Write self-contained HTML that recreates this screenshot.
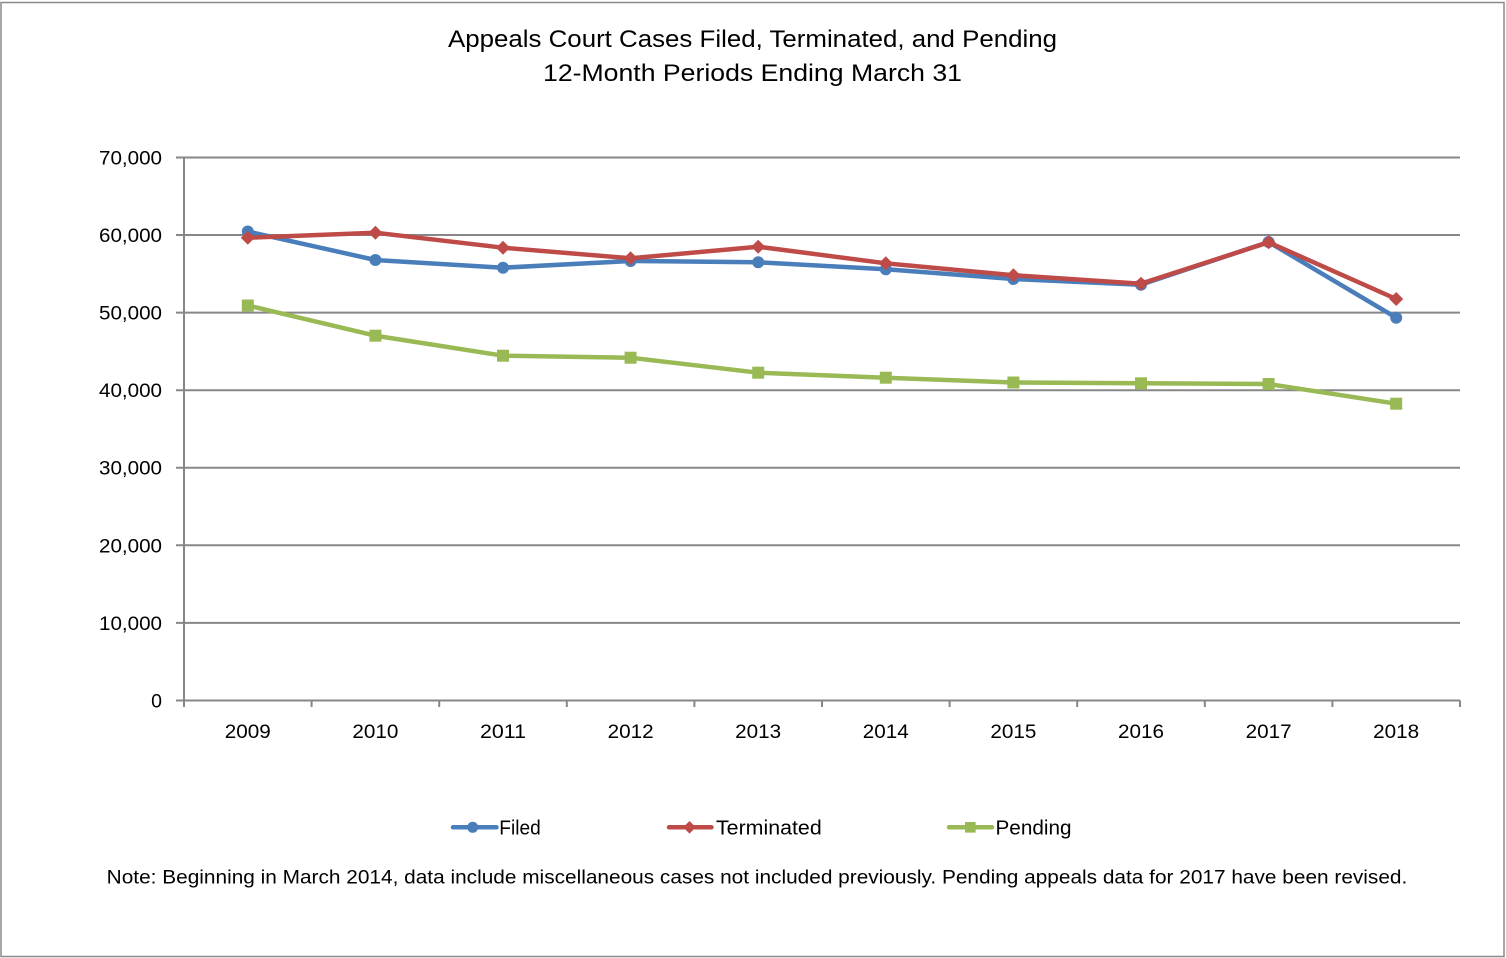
<!DOCTYPE html>
<html>
<head>
<meta charset="utf-8">
<style>
html,body{margin:0;padding:0;background:#fff;}
svg{display:block;}
text{font-family:"Liberation Sans",Arial,sans-serif;fill:#000;}
</style>
</head>
<body>
<svg width="1506" height="958" viewBox="0 0 1506 958" xmlns="http://www.w3.org/2000/svg">
<rect x="0" y="0" width="1506" height="958" fill="#fff"/>
<rect x="1" y="2.5" width="1503" height="954" fill="none" stroke="#8a8a8a" stroke-width="1.5"/>

<!-- Title -->
<text x="448" y="47" font-size="24.5" textLength="609" lengthAdjust="spacingAndGlyphs">Appeals Court Cases Filed, Terminated, and Pending</text>
<text x="543" y="81" font-size="24.5" textLength="419" lengthAdjust="spacingAndGlyphs">12-Month Periods Ending March 31</text>

<!-- Gridlines -->
<g stroke="#878787" stroke-width="2">
<line x1="176" y1="157.5" x2="1460" y2="157.5"/>
<line x1="176" y1="235" x2="1460" y2="235"/>
<line x1="176" y1="312.6" x2="1460" y2="312.6"/>
<line x1="176" y1="390.2" x2="1460" y2="390.2"/>
<line x1="176" y1="467.8" x2="1460" y2="467.8"/>
<line x1="176" y1="545.3" x2="1460" y2="545.3"/>
<line x1="176" y1="622.9" x2="1460" y2="622.9"/>
<line x1="176" y1="700.5" x2="1460" y2="700.5"/>
<line x1="184" y1="157.5" x2="184" y2="707"/>
<line x1="311.6" y1="700.5" x2="311.6" y2="707"/>
<line x1="439.2" y1="700.5" x2="439.2" y2="707"/>
<line x1="566.8" y1="700.5" x2="566.8" y2="707"/>
<line x1="694.4" y1="700.5" x2="694.4" y2="707"/>
<line x1="822" y1="700.5" x2="822" y2="707"/>
<line x1="949.6" y1="700.5" x2="949.6" y2="707"/>
<line x1="1077.2" y1="700.5" x2="1077.2" y2="707"/>
<line x1="1204.8" y1="700.5" x2="1204.8" y2="707"/>
<line x1="1332.4" y1="700.5" x2="1332.4" y2="707"/>
<line x1="1460" y1="700.5" x2="1460" y2="707"/>
</g>

<!-- Y labels -->
<g font-size="19.5" text-anchor="end">
<text x="162" y="164.5" textLength="63" lengthAdjust="spacingAndGlyphs">70,000</text>
<text x="162" y="242" textLength="63" lengthAdjust="spacingAndGlyphs">60,000</text>
<text x="162" y="319.6" textLength="63" lengthAdjust="spacingAndGlyphs">50,000</text>
<text x="162" y="397.2" textLength="63" lengthAdjust="spacingAndGlyphs">40,000</text>
<text x="162" y="474.7" textLength="63" lengthAdjust="spacingAndGlyphs">30,000</text>
<text x="162" y="552.3" textLength="63" lengthAdjust="spacingAndGlyphs">20,000</text>
<text x="162" y="629.8" textLength="63" lengthAdjust="spacingAndGlyphs">10,000</text>
<text x="162" y="707.4">0</text>
</g>

<!-- X labels -->
<g font-size="19.5">
<text x="224.8" y="738" textLength="46" lengthAdjust="spacingAndGlyphs">2009</text>
<text x="352.4" y="738" textLength="46" lengthAdjust="spacingAndGlyphs">2010</text>
<text x="480" y="738" textLength="46" lengthAdjust="spacingAndGlyphs">2011</text>
<text x="607.6" y="738" textLength="46" lengthAdjust="spacingAndGlyphs">2012</text>
<text x="735.2" y="738" textLength="46" lengthAdjust="spacingAndGlyphs">2013</text>
<text x="862.8" y="738" textLength="46" lengthAdjust="spacingAndGlyphs">2014</text>
<text x="990.4" y="738" textLength="46" lengthAdjust="spacingAndGlyphs">2015</text>
<text x="1118" y="738" textLength="46" lengthAdjust="spacingAndGlyphs">2016</text>
<text x="1245.6" y="738" textLength="46" lengthAdjust="spacingAndGlyphs">2017</text>
<text x="1373.2" y="738" textLength="46" lengthAdjust="spacingAndGlyphs">2018</text>
</g>

<!-- Filed -->
<g fill="#4A7EBB">
<polyline fill="none" stroke="#4A7EBB" stroke-width="4.5" stroke-linejoin="round" points="247.8,231.5 375.4,260 503,267.7 630.6,261 758.2,262.3 885.8,269.3 1013.4,279 1141,284.7 1268.6,242 1396.2,317.7"/>
<circle cx="247.8" cy="231.5" r="6"/>
<circle cx="375.4" cy="260" r="6"/>
<circle cx="503" cy="267.7" r="6"/>
<circle cx="630.6" cy="261" r="6"/>
<circle cx="758.2" cy="262.3" r="6"/>
<circle cx="885.8" cy="269.3" r="6"/>
<circle cx="1013.4" cy="279" r="6"/>
<circle cx="1141" cy="284.7" r="6"/>
<circle cx="1268.6" cy="242" r="6"/>
<circle cx="1396.2" cy="317.7" r="6"/>
</g>

<!-- Terminated -->
<g fill="#BE4B48">
<polyline fill="none" stroke="#BE4B48" stroke-width="4.5" stroke-linejoin="round" points="247.8,237.7 375.4,232.7 503,247.7 630.6,258.3 758.2,246.7 885.8,263.3 1013.4,275.2 1141,283.7 1268.6,242.3 1396.2,299"/>
<polygon points="247.8,230.7 254.8,237.7 247.8,244.7 240.8,237.7"/>
<polygon points="375.4,225.7 382.4,232.7 375.4,239.7 368.4,232.7"/>
<polygon points="503,240.7 510,247.7 503,254.7 496,247.7"/>
<polygon points="630.6,251.3 637.6,258.3 630.6,265.3 623.6,258.3"/>
<polygon points="758.2,239.7 765.2,246.7 758.2,253.7 751.2,246.7"/>
<polygon points="885.8,256.3 892.8,263.3 885.8,270.3 878.8,263.3"/>
<polygon points="1013.4,268.2 1020.4,275.2 1013.4,282.2 1006.4,275.2"/>
<polygon points="1141,276.7 1148,283.7 1141,290.7 1134,283.7"/>
<polygon points="1268.6,235.3 1275.6,242.3 1268.6,249.3 1261.6,242.3"/>
<polygon points="1396.2,292 1403.2,299 1396.2,306 1389.2,299"/>
</g>

<!-- Pending -->
<g fill="#98B954">
<polyline fill="none" stroke="#98B954" stroke-width="4.5" stroke-linejoin="round" points="247.8,305.5 375.4,335.7 503,355.7 630.6,357.7 758.2,372.7 885.8,377.7 1013.4,382.5 1141,383.3 1268.6,384 1396.2,403.7"/>
<rect x="241.8" y="299.5" width="12" height="12"/>
<rect x="369.4" y="329.7" width="12" height="12"/>
<rect x="497" y="349.7" width="12" height="12"/>
<rect x="624.6" y="351.7" width="12" height="12"/>
<rect x="752.2" y="366.7" width="12" height="12"/>
<rect x="879.8" y="371.7" width="12" height="12"/>
<rect x="1007.4" y="376.5" width="12" height="12"/>
<rect x="1135" y="377.3" width="12" height="12"/>
<rect x="1262.6" y="378" width="12" height="12"/>
<rect x="1390.2" y="397.7" width="12" height="12"/>
</g>

<!-- Legend -->
<line x1="453" y1="827.3" x2="496.5" y2="827.3" stroke="#4A7EBB" stroke-width="4.5" stroke-linecap="round"/>
<circle cx="472.7" cy="827.3" r="5.5" fill="#4A7EBB"/>
<text x="499.3" y="834.3" font-size="20" textLength="41.4" lengthAdjust="spacingAndGlyphs">Filed</text>

<line x1="669" y1="827.3" x2="711.5" y2="827.3" stroke="#BE4B48" stroke-width="4.5" stroke-linecap="round"/>
<polygon points="689.5,821 695.8,827.3 689.5,833.6 683.2,827.3" fill="#BE4B48"/>
<text x="716" y="834.3" font-size="20" textLength="105.7" lengthAdjust="spacingAndGlyphs">Terminated</text>

<line x1="949" y1="827.3" x2="992" y2="827.3" stroke="#98B954" stroke-width="4.5" stroke-linecap="round"/>
<rect x="965" y="822" width="10.6" height="10.6" fill="#98B954"/>
<text x="995.5" y="834.3" font-size="20" textLength="76" lengthAdjust="spacingAndGlyphs">Pending</text>

<!-- Note -->
<text x="106.7" y="883.3" font-size="19.5" textLength="1300.6" lengthAdjust="spacingAndGlyphs">Note: Beginning in March 2014, data include miscellaneous cases not included previously. Pending appeals data for 2017 have been revised.</text>
</svg>
</body>
</html>
